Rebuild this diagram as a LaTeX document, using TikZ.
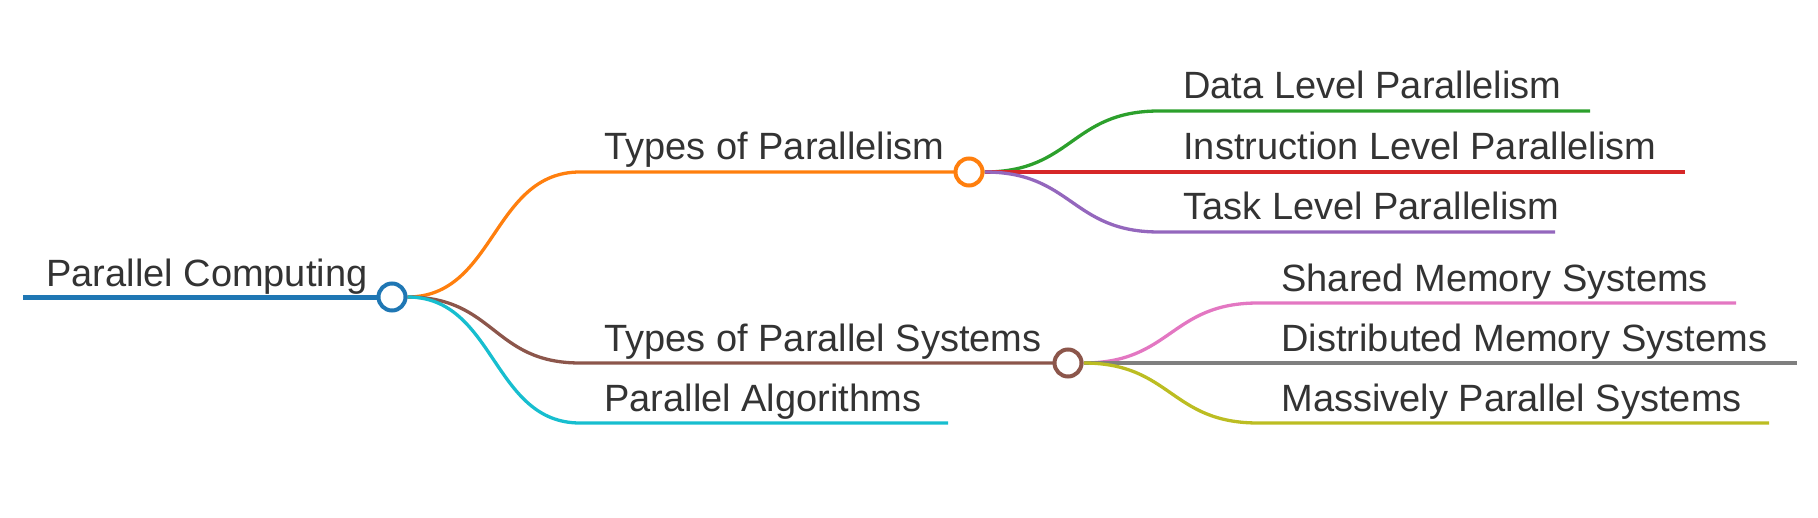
\documentclass[tikz,border=0pt]{standalone}
\usepackage{fontspec}
\setmainfont{Liberation Sans}
\usetikzlibrary{backgrounds}
\definecolor{cBlue}{HTML}{1F77B4}
\definecolor{cOrange}{HTML}{FF7F0E}
\definecolor{cGreen}{HTML}{2CA02C}
\definecolor{cRed}{HTML}{D62728}
\definecolor{cPurple}{HTML}{9467BD}
\definecolor{cBrown}{HTML}{8C564B}
\definecolor{cPink}{HTML}{E377C2}
\definecolor{cGray}{HTML}{7F7F7F}
\definecolor{cOlive}{HTML}{BCBD22}
\definecolor{cCyan}{HTML}{17BECF}
\definecolor{txt}{HTML}{333333}
\begin{document}
\begin{tikzpicture}[x=0.5pt,y=-0.5pt]
    \tikzstyle{every node}+=[inner sep=0pt]
    \tikzstyle{hub}=[circle,draw,fill=white,line width=2pt,minimum size=13.5pt]
    \tikzstyle{lbl}=[anchor=base west,text=txt,font=\fontsize{19}{23}\selectfont]
    \tikzstyle{edge}=[line width=1.65pt]
    \useasboundingbox (0,0) rectangle (1818,518);
    \node [hub,draw=cBlue] (pc) at (392,297) {};
    \node [hub,draw=cOrange] (tp) at (969,172) {};
    \node [hub,draw=cBrown] (ts) at (1068,363) {};
    \coordinate (pc-s) at (23,297);
    \coordinate (tp-s) at (580,172);
    \coordinate (ts-s) at (580,363);
    \coordinate (pa-s) at (580,423);
    \coordinate (pa-e) at (948,423);
    \coordinate (dl-s) at (1159,111);
    \coordinate (dl-e) at (1590,111);
    \coordinate (il-e) at (1685,172);
    \coordinate (tl-s) at (1159,232);
    \coordinate (tl-e) at (1555,232);
    \coordinate (sm-s) at (1258,303);
    \coordinate (sm-e) at (1736,303);
    \coordinate (dm-e) at (1797,363);
    \coordinate (mp-s) at (1258,423);
    \coordinate (mp-e) at (1769,423);
    \begin{pgfonlayer}{background}
    \draw [edge,line width=2.5pt,cBlue] (pc-s) -- (pc.center);
    \draw [edge,cOrange] (pc.east) .. controls +(88,0) and +(-88,0) .. (tp-s) -- (tp.center);
    \draw [edge,cBrown] (pc.east) .. controls +(88,0) and +(-88,0) .. (ts-s) -- (ts.center);
    \draw [edge,cCyan] (pc.east) .. controls +(88,0) and +(-88,0) .. (pa-s) -- (pa-e);
    \draw [edge,cGreen] (tp.east) .. controls +(88,0) and +(-88,0) .. (dl-s) -- (dl-e);
    \draw [edge,cRed] (tp.east) -- (il-e);
    \draw [edge,cPurple] (tp.east) .. controls +(88,0) and +(-88,0) .. (tl-s) -- (tl-e);
    \draw [edge,cPink] (ts.east) .. controls +(88,0) and +(-88,0) .. (sm-s) -- (sm-e);
    \draw [edge,cGray] (ts.east) -- (dm-e);
    \draw [edge,cOlive] (ts.east) .. controls +(88,0) and +(-88,0) .. (mp-s) -- (mp-e);
    \end{pgfonlayer}
    \node [lbl] (pc-t) at (46,286) {Parallel Computing};
    \node [lbl] (tp-t) at (604,160) {Types of Parallelism};
    \node [lbl] (ts-t) at (604,351) {Types of Parallel Systems};
    \node [lbl] (pa-t) at (604,411) {Parallel Algorithms};
    \node [lbl] (dl-t) at (1183,99) {Data Level Parallelism};
    \node [lbl] (il-t) at (1183,160) {Instruction Level Parallelism};
    \node [lbl] (tl-t) at (1183,220) {Task Level Parallelism};
    \node [lbl] (sm-t) at (1281,291) {Shared Memory Systems};
    \node [lbl] (dm-t) at (1281,351) {Distributed Memory Systems};
    \node [lbl] (mp-t) at (1281,411) {Massively Parallel Systems};
\end{tikzpicture}
\end{document}
